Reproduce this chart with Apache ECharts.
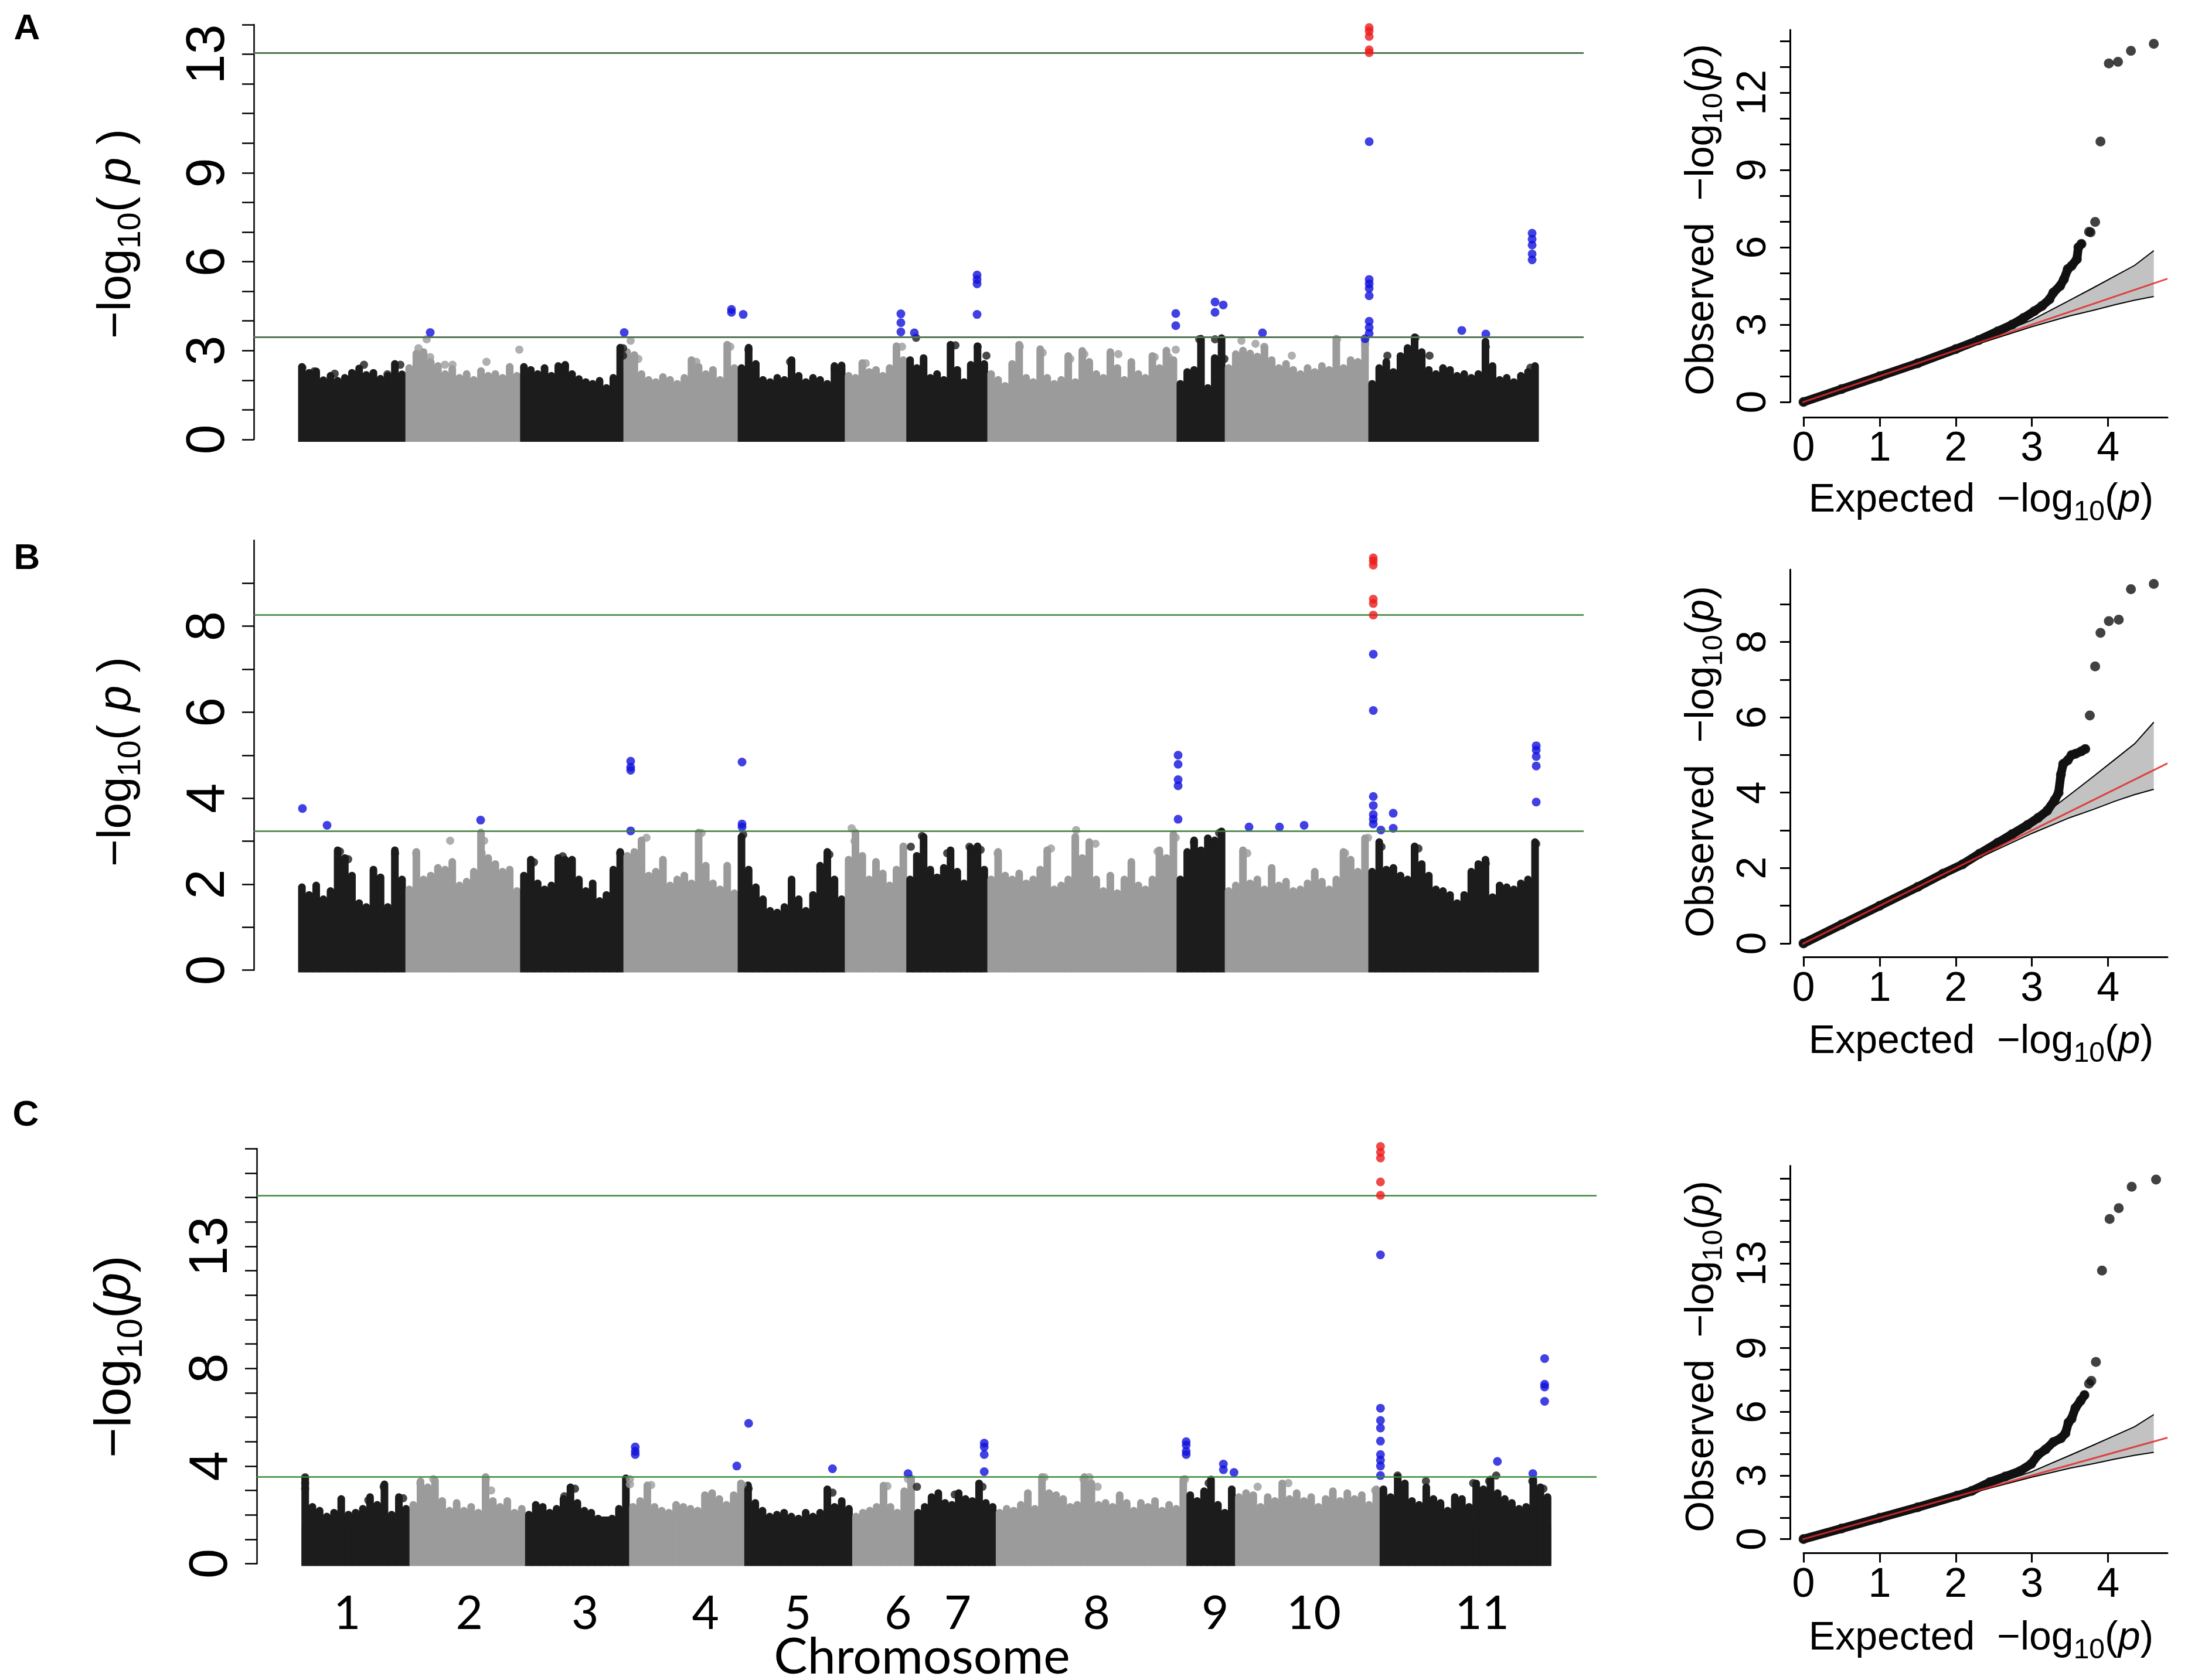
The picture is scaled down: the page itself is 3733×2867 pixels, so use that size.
<!DOCTYPE html>
<html><head><meta charset="utf-8">
<script src="https://cdn.jsdelivr.net/npm/echarts/dist/echarts.min.js"></script>
<style>html,body{margin:0;padding:0;background:#fff}#c{width:3733px;height:2867px}</style>
</head><body><div id="c"></div>
<script>
// ---------------- data ----------------
const chromosomes = ['1','2','3','4','5','6','7','8','9','10','11'];
const chrLength = [183,196,176,195,183,105,138,323,82,245,290];
const chrLabelPos = [77,284,480,684,840,1010,1111,1346,1547,1714,1999];

// solid level of the packed points in each chromosome
const baseA = [1.54,1.54,1.54,1.54,1.48,1.54,1.74,1.54,1.61,2.08,1.88];
const baseB = [1.34,1.2,1.38,1.34,1.24,1.43,1.38,1.34,1.56,1.34,1.2];
const baseC = [1.53,1.93,1.93,1.85,1.37,1.77,1.53,1.93,1.53,1.93,1.53];

// tops of the point streaks along each chromosome (left to right)
const streaksA = [
 [2.45,2.25,2.3,2.0,2.15,1.98,2.08,2.25,2.4,2.18,2.25,2.05,2.15,2.55,2.2],
 [2.41,2.9,2.95,2.62,2.48,2.21,2.38,2.08,2.21,2.01,2.31,2.15,2.21,2.08,2.45,2.15],
 [2.45,2.35,2.21,2.41,2.15,2.48,2.52,2.21,2.04,1.94,1.88,1.98,1.74,2.08,3.1],
 [2.95,2.85,2.21,2.01,1.94,2.11,2.01,1.88,2.08,2.68,2.45,2.21,2.35,2.01,3.2,2.41],
 [2.41,3.1,2.55,2.01,1.94,2.08,2.01,2.68,2.15,1.94,2.08,2.01,1.88,2.48,2.5],
 [2.15,2.08,2.58,2.28,2.35,2.15,2.41,3.15,2.68],
 [2.68,2.41,2.75,2.08,2.21,2.01,3.2,2.35,1.94,2.52,3.15,2.55],
 [2.21,2.01,1.81,2.55,3.2,2.08,1.94,3.05,2.08,1.88,2.01,2.82,1.94,2.99,2.62,2.21,2.08,2.95,2.41,2.01,2.62,2.21,2.08,2.82,2.41,3.0,2.68],
 [1.88,2.28,2.35,3.4,1.74,2.75,3.42],
 [2.41,2.88,3.0,2.9,2.8,3.1,2.68,2.41,2.55,2.35,2.21,2.41,2.28,2.48,2.35,3.4,2.41,2.68,2.62,3.3],
 [1.88,2.41,2.62,2.28,2.82,3.09,3.45,2.95,2.35,2.21,2.41,2.35,2.15,2.21,2.08,2.21,3.3,2.48,2.01,2.08,1.94,2.15,2.28,2.48]
];
const streaksB = [
 [1.93,1.75,1.97,1.65,1.84,2.79,2.61,2.2,1.56,1.47,2.34,2.16,1.47,2.79,2.11],
 [1.88,2.75,2.11,2.2,2.38,2.34,2.52,1.97,2.06,2.29,3.2,2.61,2.47,2.29,2.34,1.84],
 [2.2,2.57,2.02,1.88,1.97,2.61,2.57,2.57,2.11,1.84,2.02,1.61,1.75,2.34,2.75],
 [2.66,2.75,3.02,2.2,2.29,2.57,1.97,2.11,2.2,2.02,3.2,2.43,2.02,1.88,2.43,1.79],
 [3.1,2.34,1.93,1.65,1.38,1.34,1.47,2.11,1.65,1.38,1.75,2.43,2.75,2.11,1.65],
 [2.57,3.2,2.66,2.11,2.52,2.25,1.97,2.34,2.88],
 [2.11,2.66,3.1,2.34,2.16,2.38,2.79,2.29,2.02,2.84,2.88,2.34],
 [2.11,2.75,2.2,2.11,2.25,2.02,2.11,2.34,2.79,1.88,1.97,2.11,3.1,2.61,2.98,2.11,1.84,2.2,1.79,2.11,2.52,1.97,1.88,2.11,2.79,2.61,3.16],
 [2.11,2.75,3.02,2.79,3.07,3.02,3.23],
 [1.84,1.97,2.79,2.02,2.11,1.88,2.38,1.97,2.06,1.84,1.88,2.02,2.29,2.06,1.88,2.11,2.75,2.57,2.29,3.07],
 [2.29,2.98,2.34,2.38,2.2,2.11,2.88,2.47,2.2,1.88,1.84,1.75,1.56,1.75,2.29,2.47,2.57,1.7,1.97,1.93,1.88,2.02,2.11,2.98]
];
const streaksC = [
 [3.5,2.33,2.17,1.93,2.09,2.65,2.01,2.09,2.25,2.73,2.41,3.25,2.01,2.73,2.25],
 [2.41,3.37,3.13,3.4,2.57,2.17,2.49,2.17,2.33,2.09,3.55,2.57,2.33,2.57,2.09,2.25],
 [2.01,2.41,2.33,2.09,2.25,2.65,3.13,2.49,2.17,2.09,1.85,1.77,1.85,2.25,3.5],
 [2.33,2.57,3.21,2.33,2.17,2.09,2.41,2.33,2.25,2.17,2.81,2.89,2.65,2.41,2.81,3.29],
 [3.21,2.49,2.17,1.93,2.01,2.09,1.93,1.85,2.09,1.93,2.09,3.05,2.33,2.57,2.25],
 [1.93,2.09,2.17,2.33,3.2,2.33,2.09,2.97,3.5],
 [2.09,2.33,2.73,2.89,2.49,2.41,2.89,2.65,2.57,3.29,2.49,2.33],
 [2.09,2.25,2.17,2.41,2.89,2.25,3.55,2.89,2.81,2.65,2.33,2.41,3.55,3.29,2.41,2.49,2.33,2.81,2.49,2.17,2.49,2.33,2.57,2.17,2.41,2.25,3.45],
 [2.81,2.57,2.97,3.45,2.41,2.09,3.05],
 [2.73,2.89,2.81,2.33,2.73,2.57,3.29,2.65,2.89,2.57,2.73,2.33,2.65,2.97,2.57,2.89,2.65,2.81,2.41,3.05],
 [3.05,2.73,3.55,3.29,2.57,2.41,3.13,2.65,2.49,2.17,2.73,2.65,2.33,3.29,3.05,3.45,2.89,2.65,2.49,2.25,2.33,3.45,3.13,2.73]
];

// isolated points above the dense body [position, -log10 p]
const spikesA = [[7,2.42],[27,2.3],[62,2.22],[112,2.52],[152,2.2],[174,2.52],
 [205,3.08],[219,3.38],[225,2.78],[250,2.52],[263,2.52],[321,2.62],[377,3.03],
 [455,2.47],[554,3.08],[554,2.83],[567,3.33],[580,2.72],[679,2.62],[737,3.13],
 [768,3.03],[839,2.62],[915,2.37],[968,2.57],[1030,3.13],
 [1054,3.43],[1121,3.18],[1159,3.13],[1174,2.83],
 [1231,3.13],[1270,2.93],[1317,2.72],[1341,2.88],[1399,2.88],[1461,2.78],[1485,2.78],[1497,3.03],
 [1537,3.38],[1564,3.38],[1580,2.72],
 [1609,3.33],[1633,3.23],[1648,3.13],[1695,2.83],[1772,3.38],[1820,3.23],
 [1858,2.83],[1906,3.43],[1930,2.83],[2026,3.13],[2102,2.42]];
const spikesB = [[71,2.76],[85,2.58],[165,2.72],
 [201,2.72],[259,3.01],[313,2.72],[317,3.01],
 [402,2.51],[451,2.65],[549,2.72],
 [594,3.08],[688,3.19],[759,3.15],[906,2.69],
 [944,3.3],[949,3.0],[1045,2.87],[1064,3.12],[1107,2.72],[1145,2.87],[1164,2.8],
 [1193,2.72],[1284,2.83],[1327,3.26],[1360,2.94],[1466,2.76],[1497,3.08],
 [1528,2.97],[1557,2.94],[1571,3.19],
 [1619,2.72],[1786,2.72],[1825,3.08],[1848,2.87],[1911,2.83],[2026,2.48],[2112,2.94]];
const spikesC = [[6,3.54],[6,3.3],[6,3.07],[113,2.6],[139,3.15],[172,2.68],
 [201,3.3],[223,3.46],[312,3.46],[321,3.0],
 [445,2.76],[463,3.07],[556,3.46],[556,3.25],
 [592,3.22],[693,2.76],[747,3.22],[757,3.07],[899,2.91],
 [992,3.18],[1027,3.46],[1042,3.15],[1106,2.83],[1153,3.15],
 [1258,3.54],[1324,3.46],[1334,3.54],[1348,3.15],[1496,3.46],
 [1536,3.3],[1619,3.15],[1671,3.3],[1818,3.0],
 [1856,3.61],[1904,3.38],[1984,3.3],[2011,3.38],[2023,3.61],[2084,3.38],[2103,3.07]];

// suggestive (blue) and significant (red) markers
const hitsA = [[225,3.61],[556,3.61],[739,4.29],[739,4.39],[759,4.22],[1028,4.24],[1028,3.94],[1028,3.63],[1051,3.6],
 [1158,5.55],[1158,5.4],[1158,5.25],[1158,4.22],[1497,4.25],[1497,3.84],[1564,4.64],[1564,4.29],[1578,4.54],[1645,3.6],
 [1827,10.05],[1827,5.4],[1827,5.25],[1827,5.1],[1827,4.85],[1827,3.99],[1827,3.78],[1827,3.58],[1820,3.4],
 [1985,3.68],[2026,3.56],[2105,6.96],[2105,6.76],[2105,6.56],[2105,6.26],[2105,6.06]];
const topA = [[1827,13.9],[1827,13.78],[1827,13.6],[1827,13.15],[1827,13.05]];
const hitsB = [[7,3.76],[49,3.37],[311,3.49],[567,4.86],[567,4.72],[567,4.65],[567,3.24],[757,4.84],[757,3.4],[757,3.33],
 [1501,5.0],[1501,4.79],[1501,4.43],[1501,4.29],[1501,3.51],[1622,3.33],[1674,3.33],[1716,3.37],
 [1834,7.35],[1834,6.04],[1834,4.04],[1834,3.83],[1834,3.62],[1834,3.51],[1834,3.4],[1868,3.65],[1847,3.26],[1868,3.3],
 [2112,5.22],[2112,5.12],[2112,4.97],[2112,4.75],[2112,3.91]];
const topB = [[1834,9.59],[1834,9.52],[1834,9.42],[1834,8.63],[1834,8.53],[1834,8.26]];
const hitsC = [[565,4.78],[565,4.6],[565,4.47],[737,4.0],[757,5.75],[899,3.89],[1027,3.69],
 [1156,4.94],[1156,4.78],[1156,4.47],[1156,3.77],[1498,5.0],[1498,4.86],[1498,4.6],[1498,4.47],
 [1561,4.08],[1561,3.85],[1579,3.74],[1827,12.65],[1827,6.37],[1827,5.87],[1827,5.56],[1827,5.02],[1827,4.47],
 [1827,4.24],[1827,4.0],[1827,3.61],[2025,4.19],[2085,3.69],[2105,8.4],[2105,7.35],[2105,7.24],[2105,6.65]];
const topC = [[1827,17.09],[1827,16.85],[1827,16.62],[1827,15.64],[1827,15.09]];

const thresholdA = [3.46, 13.05];
const thresholdB = [3.24, 8.27];
const thresholdC = [3.56, 15.08];

const yTicksA = [0,1,2,3,4,5,6,7,8,9,10,11,12,13,14];
const yLabelsA = [0,3,6,9,13];
const yTicksB = [0,1,2,3,4,5,6,7,8,9];
const yLabelsB = [0,2,4,6,8];
const yTicksC = [0,1,2,3,4,5,6,7,8,9,10,11,12,13,14,15,16,17];
const yLabelsC = [0,4,8,13];

// QQ plots [expected, observed]
const qqCurveA = [[0,0],[0.5,0.5],[1.0,1.0],[1.5,1.5],[2.0,2.05],[2.3,2.4],[2.55,2.74],[2.74,3.0],[2.89,3.26],[3.03,3.52],[3.13,3.72],[3.23,3.98],[3.28,4.24],[3.37,4.5],[3.42,4.76],[3.47,5.15],[3.52,5.28],[3.59,5.54],[3.61,6.0],[3.65,6.13]];
const qqTailA = [[3.75,6.6],[3.77,6.58],[3.83,6.98],[3.90,10.10],[4.01,13.13],[4.13,13.19],[4.30,13.62],[4.60,13.89]];
const qqCurveB = [[0,0],[0.5,0.5],[1,1],[1.5,1.5],[1.83,1.85],[2.09,2.1],[2.31,2.38],[2.55,2.67],[2.74,2.9],[2.94,3.14],[3.08,3.33],[3.2,3.52],[3.3,3.81],[3.35,4.0],[3.38,4.48],[3.41,4.76],[3.47,4.86],[3.52,5.0],[3.57,5.03],[3.65,5.1],[3.7,5.16]];
const qqTailB = [[3.76,6.05],[3.83,7.35],[3.9,8.24],[4.01,8.55],[4.14,8.59],[4.3,9.4],[4.6,9.54]];
const qqCurveC = [[0,0],[0.5,0.5],[1,1],[1.5,1.5],[2.02,2.05],[2.21,2.27],[2.45,2.69],[2.65,2.95],[2.84,3.2],[2.99,3.54],[3.08,3.97],[3.18,4.23],[3.28,4.57],[3.38,4.75],[3.44,4.99],[3.48,5.5],[3.52,5.67],[3.57,6.18],[3.64,6.53],[3.69,6.79]];
const qqTailC = [[3.75,7.33],[3.78,7.46],[3.84,8.35],[3.92,12.66],[4.02,15.09],[4.14,15.6],[4.31,16.61],[4.63,16.95]];
const ciX  = [2.0, 2.5, 3.0, 3.5, 3.8, 4.1, 4.35, 4.6];
const ciUp = [2.04, 2.58, 3.18, 3.95, 4.42, 4.9, 5.3, 5.87];
const ciLo = [1.97, 2.45, 2.92, 3.34, 3.55, 3.78, 3.95, 4.09];
const qqRefLine = [[-0.18,-0.18],[4.78,4.78]];
const qqXTicks = [0,1,2,3,4];
const qqYTicksA = [0,1,2,3,4,5,6,7,8,9,10,11,12,13,14];
const qqYLabelsA = [0,3,6,9,12];
const qqYTicksB = [0,1,2,3,4,5,6,7,8,9];
const qqYLabelsB = [0,2,4,6,8];
const qqYTicksC = [0,1,2,3,4,5,6,7,8,9,10,11,12,13,14,15,16,17];
const qqYLabelsC = [0,3,6,9,13];

// ---------------- build ----------------
const FONT = 'Liberation Sans, Arial, Helvetica, sans-serif';
const chrColor = ['#1c1c1c', '#9b9b9b'];
const BLUE = '#1212dc', RED = '#ec1c1c';
const starts = []; { let a = 0; chrLength.forEach(l => { starts.push(a); a += l; }); }
function chrOf(u) { for (let k = chrLength.length - 1; k >= 0; k--) if (u >= starts[k]) return k; return 0; }

const series = [];
function manhattan(gi, base, streaks, spikes, hits, tops, thr, thrStyle) {
  base.forEach((b, k) => {
    series.push({
      type: 'line', xAxisIndex: gi, yAxisIndex: gi, silent: true, symbol: 'none', z: 2, clip: false,
      data: [[starts[k], b], [starts[k] + chrLength[k], b]],
      lineStyle: { width: 0, color: chrColor[k % 2] },
      areaStyle: { color: chrColor[k % 2], opacity: 1 }
    });
  });
  const sd = [];
  streaks.forEach((arr, k) => arr.forEach((h, i) => sd.push([starts[k] + chrLength[k] * (i + 0.5) / arr.length, h, k])));
  series.push({
    type: 'custom', xAxisIndex: gi, yAxisIndex: gi, silent: true, z: 2, clip: false, data: sd,
    renderItem: (params, api) => {
      const x = api.value(0), h = api.value(1), k = api.value(2);
      const top = api.coord([x, h]), bot = api.coord([x, 0]);
      const w = 13;
      return { type: 'rect', shape: { x: top[0] - w / 2, y: top[1] - w / 2, width: w, height: bot[1] - top[1] + w / 2 + 4, r: [w / 2, w / 2, 0, 0] },
        style: { fill: chrColor[k % 2] } };
    }
  });
  series.push({
    type: 'scatter', xAxisIndex: gi, yAxisIndex: gi, silent: true, z: 3, clip: false,
    data: spikes, symbolSize: 14,
    itemStyle: { color: p => chrColor[chrOf(p.data[0]) % 2] },
    markLine: { silent: true, symbol: 'none', label: { show: false },
      lineStyle: Object.assign({ type: 'solid' }, thrStyle),
      data: thr.map(t => ({ yAxis: t })) }
  });
  series.push({ type: 'scatter', xAxisIndex: gi, yAxisIndex: gi, silent: true, z: 4, clip: false,
    data: hits, symbolSize: 15, itemStyle: { color: BLUE } });
  series.push({ type: 'scatter', xAxisIndex: gi, yAxisIndex: gi, silent: true, z: 5, clip: false,
    data: tops, symbolSize: 15, itemStyle: { color: RED } });
}
function qq(gi, curve, tail) {
  series.push({
    type: 'custom', xAxisIndex: gi, yAxisIndex: gi, silent: true, z: 2, clip: false, data: [[0, 0]],
    renderItem: (params, api) => {
      const up = ciX.map((x, i) => api.coord([x, ciUp[i]]));
      const lo = ciX.map((x, i) => api.coord([x, ciLo[i]]));
      return { type: 'group', children: [
        { type: 'polygon', shape: { points: up.concat(lo.slice().reverse()) }, style: { fill: '#c2c2c2' } },
        { type: 'polyline', shape: { points: up }, style: { stroke: '#000', lineWidth: 2, fill: 'transparent' } },
        { type: 'polyline', shape: { points: lo }, style: { stroke: '#000', lineWidth: 2, fill: 'transparent' } }
      ] };
    }
  });
  series.push({ type: 'line', xAxisIndex: gi, yAxisIndex: gi, silent: true, z: 3, clip: false, symbol: 'none',
    data: curve, lineStyle: { color: '#111', width: 15, join: 'round', cap: 'round' } });
  series.push({ type: 'scatter', xAxisIndex: gi, yAxisIndex: gi, silent: true, z: 3, clip: false,
    data: curve.concat(tail), symbolSize: 17, itemStyle: { color: '#111' } });
  series.push({ type: 'line', xAxisIndex: gi, yAxisIndex: gi, silent: true, z: 5, clip: false, symbol: 'none',
    data: qqRefLine, lineStyle: { color: '#e02a2a', width: 3, opacity: 0.85 } });
}

manhattan(0, baseA, streaksA, spikesA, hitsA, topA, thresholdA, { color: '#557555', width: 3 });
manhattan(1, baseB, streaksB, spikesB, hitsB, topB, thresholdB, { color: '#3a7f3a', width: 2.5 });
manhattan(2, baseC, streaksC, spikesC, hitsC, topC, thresholdC, { color: '#3a8a3a', width: 2.5 });
qq(3, qqCurveA, qqTailA);
qq(4, qqCurveB, qqTailB);
qq(5, qqCurveC, qqTailC);

function mX(gi, showLabels) {
  return { type: 'value', gridIndex: gi, min: -76, max: 2193, show: showLabels,
    axisLine: { show: false }, axisTick: { show: false }, splitLine: { show: false },
    axisLabel: { show: showLabels, customValues: chrLabelPos, margin: 46, fontSize: 80, fontFamily: 'Lato, sans-serif', color: '#000',
      formatter: v => { let b = 0; chrLabelPos.forEach((p, i) => { if (Math.abs(p - v) < Math.abs(chrLabelPos[b] - v)) b = i; }); return chromosomes[b]; } } };
}
function mY(gi, max, ticks, labels) {
  return { type: 'value', gridIndex: gi, min: 0, max: max,
    axisLine: { show: true, onZero: false, lineStyle: { color: '#000', width: 2.5 } },
    axisTick: { show: true, length: 20, customValues: ticks, lineStyle: { color: '#000', width: 2.5 } },
    axisLabel: { show: true, rotate: 90, margin: 30, fontSize: 92, fontFamily: FONT, color: '#000', customValues: labels },
    splitLine: { show: false } };
}
function qX(gi, off) {
  return { type: 'value', gridIndex: gi, min: 0, max: 4.78, offset: off, position: 'bottom',
    axisLine: { show: true, onZero: false, lineStyle: { color: '#000', width: 3 } },
    axisTick: { show: true, length: 16, customValues: qqXTicks, lineStyle: { color: '#000', width: 3 } },
    axisLabel: { customValues: qqXTicks, fontSize: 70, margin: 20, fontFamily: FONT, color: '#000' },
    splitLine: { show: false } };
}
function qY(gi, max, ticks, labels) {
  return { type: 'value', gridIndex: gi, min: 0, max: max, offset: 23, position: 'left',
    axisLine: { show: true, onZero: false, lineStyle: { color: '#000', width: 3 } },
    axisTick: { show: true, length: 17, customValues: ticks, lineStyle: { color: '#000', width: 3 } },
    axisLabel: { rotate: 90, customValues: labels, fontSize: 70, margin: 26, fontFamily: FONT, color: '#000' },
    splitLine: { show: false } };
}

function logTitle(prefix, F, spaced) {
  const t = spaced ? '{t|' + prefix + '−log}{s|10}{t|( }{i|p}{t| )}' : '{t|' + prefix + '−log}{s|10}{t|(}{i|p}{t|)}';
  const sf = Math.round(F * 0.7);
  return { text: t, rich: {
    t: { fontSize: F, fontFamily: FONT, lineHeight: F, fill: '#000' },
    s: { fontSize: sf, fontFamily: FONT, lineHeight: sf, padding: [Math.round(F * 0.6), 0, 0, 0], fill: '#000' },
    i: { fontSize: F, fontFamily: FONT, fontStyle: 'italic', lineHeight: F, fill: '#000' } } };
}
function txt(x, y, rot, style) {
  return { type: 'text', x: x, y: y, rotation: rot, silent: true,
    style: Object.assign({ align: 'center', verticalAlign: 'middle', textAlign: 'center', textVerticalAlign: 'middle', fill: '#000' }, style) };
}
const graphic = [
  txt(200, 399, Math.PI / 2, logTitle('', 80, true)),
  txt(200, 1300, Math.PI / 2, logTitle('', 80, true)),
  txt(198, 2315, Math.PI / 2, logTitle('', 88, false)),
  txt(2904, 375, Math.PI / 2, logTitle('Observed  ', 68, false)),
  txt(2904, 1300, Math.PI / 2, logTitle('Observed  ', 68, false)),
  txt(2904, 2315, Math.PI / 2, logTitle('Observed  ', 68, false)),
  txt(3380, 854, 0, logTitle('Expected  ', 68, false)),
  txt(3380, 1778, 0, logTitle('Expected  ', 68, false)),
  txt(3380, 2796, 0, logTitle('Expected  ', 68, false)),
  txt(1573, 2828, 0, { text: 'Chromosome', fontSize: 86, fontFamily: 'Lato, sans-serif' }),
  txt(46, 50, 0, { text: 'A', fontSize: 62, fontWeight: 'bold', fontFamily: FONT }),
  txt(46, 954, 0, { text: 'B', fontSize: 62, fontWeight: 'bold', fontFamily: FONT }),
  txt(44, 1904, 0, { text: 'C', fontSize: 62, fontWeight: 'bold', fontFamily: FONT })
];

const option = {
  animation: false,
  backgroundColor: '#fff',
  grid: [
    { left: 433, top: 42, width: 2269, height: 708 },
    { left: 433, top: 922, width: 2269, height: 733.6 },
    { left: 438, top: 1960.3, width: 2286, height: 708.2 },
    { left: 3077, top: 51, width: 621, height: 635 },
    { left: 3077, top: 972, width: 621, height: 638 },
    { left: 3077, top: 1989.4, width: 621, height: 637.1 }
  ],
  xAxis: [mX(0, false), mX(1, false), mX(2, true), qX(3, 26), qX(4, 23.4), qX(5, 24)],
  yAxis: [mY(0, 14, yTicksA, yLabelsA), mY(1, 10, yTicksB, yLabelsB), mY(2, 17, yTicksC, yLabelsC),
          qY(3, 14.43, qqYTicksA, qqYLabelsA), qY(4, 9.92, qqYTicksB, qqYLabelsB), qY(5, 17.6, qqYTicksC, qqYLabelsC)],
  series: series,
  graphic: graphic
};
const chart = echarts.init(document.getElementById('c'), null, { width: 3733, height: 2867 });
chart.setOption(option);
</script></body></html>
